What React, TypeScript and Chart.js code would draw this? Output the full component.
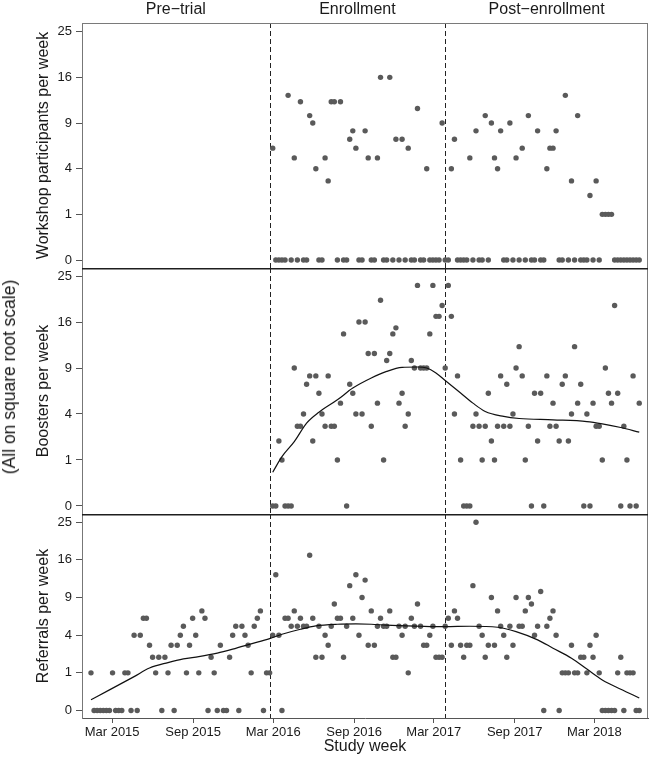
import React, { useEffect, useRef } from "react";
import { Chart, registerables } from "chart.js";

Chart.register(...registerables);

// ---------- data ----------
const studyStartUTC = Date.UTC(2015, 0, 12); // week 0 of the study

const phaseLabels = ["Pre\u2212trial", "Enrollment", "Post\u2212enrollment"];
const phaseBoundaryWeeks = [58, 115];

const xTickDates = ["2015-03-01", "2015-09-01", "2016-03-01", "2016-09-01", "2017-03-01", "2017-09-01", "2018-03-01"];
const xTickLabels = ["Mar 2015", "Sep 2015", "Mar 2016", "Sep 2016", "Mar 2017", "Sep 2017", "Mar 2018"];
const yTickValues = [0, 1, 4, 9, 16, 25];

const workshopStartWeek = 59;
const workshopValues = [
  6, 0, 0, 0, 0, 13, 0, 5, 0, 12,
  0, 0, 10, 9, 4, 0, 0, 5, 3, 12,
  12, 0, 12, 0, 0, 7, 8, 6, 0, 0,
  8, 5, 0, 0, 5, 16, 0, 0, 16, 0,
  7, 0, 7, 0, 6, 0, 0, 11, 0, 0,
  4, 0, 0, 0, 0, 9, 0, 0, 4, 7,
  0, 0, 0, 0, 5, 0, 8, 0, 0, 10,
  0, 9, 5, 4, 8, 0, 0, 9, 0, 5,
  0, 6, 0, 10, 0, 0, 8, 0, 0, 4,
  6, 6, 8, 0, 0, 13, 0, 3, 0, 10,
  0, 0, 0, 2, 0, 3, 0, 1, 1, 1,
  1, 0, 0, 0, 0, 0, 0, 0, 0, 0,
];

const boosterStartWeek = 59;
const boosterValues = [
  0, 0, 2, 1, 0, 0, 0, 9, 3, 3,
  4, 7, 8, 2, 8, 6, 4, 3, 8, 3,
  3, 1, 5, 14, 0, 7, 6, 4, 16, 4,
  16, 11, 3, 11, 5, 20, 1, 10, 11, 14,
  15, 5, 6, 3, 4, 10, 9, 23, 9, 9,
  9, 14, 23, 17, 17, 19, 9, 23, 17, 4,
  8, 1, 0, 0, 0, 3, 4, 3, 1, 3,
  6, 2, 1, 3, 8, 3, 7, 3, 4, 9,
  12, 8, 1, 3, 0, 6, 2, 6, 0, 8,
  3, 5, 3, 2, 7, 8, 2, 4, 12, 5,
  7, 0, 4, 0, 5, 3, 3, 1, 9, 6,
  5, 19, 6, 0, 3, 1, 0, 8, 0, 5,
];

const referralStartWeek = 0;
const referralValues = [
  1, 0, 0, 0, 0, 0, 0, 1, 0, 0,
  0, 1, 1, 0, 4, 0, 4, 6, 6, 3,
  2, 1, 2, 0, 2, 1, 3, 0, 3, 4,
  5, 1, 3, 6, 4, 1, 7, 6, 0, 2,
  1, 0, 3, 0, 0, 2, 4, 5, 0, 5,
  4, 3, 1, 5, 6, 7, 0, 1, 1, 4,
  13, 4, 0, 6, 6, 5, 7, 5, 6, 5,
  5, 17, 6, 2, 5, 2, 4, 3, 5, 8,
  6, 6, 2, 5, 11, 6, 13, 4, 9, 12,
  3, 7, 3, 5, 6, 5, 5, 7, 2, 2,
  5, 4, 5, 1, 6, 5, 8, 5, 3, 3,
  4, 5, 2, 2, 2, 5, 6, 3, 7, 6,
  3, 2, 3, 3, 11, 25, 5, 4, 2, 3,
  9, 3, 7, 5, 4, 2, 5, 3, 9, 5,
  5, 7, 9, 8, 4, 5, 10, 0, 5, 6,
  7, 4, 0, 1, 1, 1, 3, 1, 1, 2,
  2, 1, 3, 2, 4, 1, 0, 0, 0, 0,
  0, 1, 2, 0, 1, 1, 1, 0, 0,
];

const boosterTrendWeeks = [59, 62, 66, 70, 74, 80, 85, 91, 96, 101, 106, 109, 112, 115, 120, 124, 128, 134, 139, 150, 161, 166, 172, 178];
const boosterTrendValues = [0.54, 1.15, 1.96, 3.25, 4.16, 5.33, 6.57, 7.74, 8.56, 9.08, 9.13, 9.0, 8.36, 7.45, 6.03, 5.0, 4.22, 3.79, 3.62, 3.51, 3.37, 3.19, 2.91, 2.58];

const referralTrendWeeks = [0, 6, 14, 19, 25, 30, 35, 41, 46, 52, 58, 62, 68, 73, 80, 86, 91, 96, 107, 115, 123, 132, 138, 145, 150, 156, 161, 166, 172, 178];
const referralTrendValues = [0.08, 0.3, 0.81, 1.27, 1.62, 1.88, 2.05, 2.32, 2.65, 3.13, 3.65, 4.1, 4.66, 5.05, 5.25, 5.29, 5.25, 5.13, 5.01, 4.96, 5.01, 4.89, 4.39, 3.52, 2.74, 1.93, 1.21, 0.66, 0.32, 0.11];

// ---------- helpers ----------
const FONT = "'Liberation Sans', Arial, Helvetica, sans-serif";
const POINT_COLOR = "#5a5a5a";
const TEXT_COLOR = "#1a1a1a";
const X_MIN = -2.92;
const X_MAX = 180.84;

const weekOfDate = (d: string) => (Date.parse(d + "T00:00:00Z") - studyStartUTC) / (7 * 86400000);
const xTickWeeks = xTickDates.map(weekOfDate);

const toPoints = (start: number, values: number[]) =>
  values.map((v, i) => ({ x: start + i, y: Math.sqrt(v) }));
const toTrend = (weeks: number[], values: number[]) =>
  weeks.map((w, i) => ({ x: w, y: Math.sqrt(values[i]) }));

type PanelSpec = {
  top: number;
  height: number;
  padTop: number;
  yMin: number;
  yMax: number;
  title: string;
  points: { x: number; y: number }[];
  trend: { x: number; y: number }[] | null;
  first: boolean;
  last: boolean;
};

const panels: PanelSpec[] = [
  {
    top: 0, height: 268, padTop: 23, yMin: -0.175, yMax: 5.19,
    title: "Workshop participants per week",
    points: toPoints(workshopStartWeek, workshopValues),
    trend: null, first: true, last: false,
  },
  {
    top: 268, height: 246, padTop: 0, yMin: -0.174, yMax: 5.174,
    title: "Boosters per week",
    points: toPoints(boosterStartWeek, boosterValues),
    trend: toTrend(boosterTrendWeeks, boosterTrendValues), first: false, last: false,
  },
  {
    top: 514, height: 243, padTop: 0, yMin: -0.2, yMax: 5.22,
    title: "Referrals per week",
    points: toPoints(referralStartWeek, referralValues),
    trend: toTrend(referralTrendWeeks, referralTrendValues), first: false, last: true,
  },
];

function makeDecor(spec: PanelSpec) {
  return {
    id: "decor",
    beforeDatasetsDraw(chart: any) {
      const { ctx, chartArea, scales } = chart;
      ctx.save();
      ctx.strokeStyle = "#222";
      ctx.lineWidth = 1;
      ctx.setLineDash([5, 3]);
      for (const w of phaseBoundaryWeeks) {
        const px = Math.round(scales.x.getPixelForValue(w)) + 0.5;
        ctx.beginPath();
        ctx.moveTo(px, chartArea.top);
        ctx.lineTo(px, chartArea.bottom);
        ctx.stroke();
      }
      ctx.restore();
    },
    afterDraw(chart: any) {
      const { ctx, chartArea, scales } = chart;
      ctx.save();
      ctx.strokeStyle = "#7a7a7a";
      ctx.lineWidth = 1;
      ctx.beginPath();
      ctx.moveTo(chartArea.right - 0.5, chartArea.top);
      ctx.lineTo(chartArea.right - 0.5, chartArea.bottom);
      ctx.stroke();
      if (spec.first) {
        ctx.beginPath();
        ctx.moveTo(chartArea.left, chartArea.top + 0.5);
        ctx.lineTo(chartArea.right, chartArea.top + 0.5);
        ctx.stroke();
        ctx.fillStyle = TEXT_COLOR;
        ctx.font = `16px ${FONT}`;
        ctx.textAlign = "center";
        ctx.textBaseline = "alphabetic";
        const edges = [X_MIN, ...phaseBoundaryWeeks, X_MAX].map((w) => scales.x.getPixelForValue(w));
        phaseLabels.forEach((label, i) => {
          ctx.fillText(label, (edges[i] + edges[i + 1]) / 2, 14);
        });
      } else {
        ctx.strokeStyle = "#1e1e1e";
        ctx.lineWidth = 1.6;
        ctx.beginPath();
        ctx.moveTo(chartArea.left, chartArea.top + 0.8);
        ctx.lineTo(chartArea.right, chartArea.top + 0.8);
        ctx.stroke();
      }
      ctx.restore();
    },
  };
}

function buildConfig(spec: PanelSpec): any {
  const datasets: any[] = [];
  if (spec.trend) {
    datasets.push({
      data: spec.trend,
      showLine: true,
      borderColor: "#111",
      borderWidth: 1.2,
      pointRadius: 0,
      cubicInterpolationMode: "monotone",
      fill: false,
    });
  }
  datasets.push({
    data: spec.points,
    pointRadius: 2.7,
    pointBackgroundColor: POINT_COLOR,
    pointBorderWidth: 0,
    borderColor: POINT_COLOR,
    backgroundColor: POINT_COLOR,
  });

  return {
    type: "scatter",
    data: { datasets },
    options: {
      animation: false,
      responsive: false,
      maintainAspectRatio: false,
      devicePixelRatio: 1,
      layout: { autoPadding: false, padding: { top: spec.padTop, left: 0, right: 2, bottom: 0 } },
      plugins: { legend: { display: false }, tooltip: { enabled: false } },
      scales: {
        x: {
          type: "linear",
          display: spec.last,
          min: X_MIN,
          max: X_MAX,
          afterBuildTicks: (s: any) => {
            s.ticks = xTickWeeks.map((v) => ({ value: v }));
          },
          ticks: {
            autoSkip: false,
            maxRotation: 0,
            padding: 2,
            color: TEXT_COLOR,
            font: { family: FONT, size: 13 },
            callback: (_v: any, i: number) => xTickLabels[i],
          },
          grid: { drawOnChartArea: false, tickLength: 5, color: "#555" },
          border: { display: true, color: "#555", width: 1 },
          title: {
            display: true,
            text: "Study week",
            color: TEXT_COLOR,
            font: { family: FONT, size: 16 },
            padding: { top: 0, bottom: 1 },
          },
          afterFit: (s: any) => {
            s.height = spec.last ? 39 : 0;
            s.paddingLeft = 0;
            s.paddingRight = 0;
          },
        },
        y: {
          type: "linear",
          min: spec.yMin,
          max: spec.yMax,
          afterBuildTicks: (s: any) => {
            s.ticks = yTickValues.map((v) => ({ value: Math.sqrt(v) }));
          },
          ticks: {
            autoSkip: false,
            padding: 4,
            color: TEXT_COLOR,
            font: { family: FONT, size: 13 },
            callback: (_v: any, i: number) => String(yTickValues[i]),
          },
          grid: { drawOnChartArea: false, tickLength: 6, color: "#555" },
          border: { display: true, color: "#777", width: 1 },
          title: {
            display: true,
            text: spec.title,
            color: TEXT_COLOR,
            font: { family: FONT, size: 16 },
            padding: { top: 34, bottom: 0 },
          },
          afterFit: (s: any) => {
            s.width = 82;
            s.paddingTop = 0;
            s.paddingBottom = 0;
          },
        },
      },
    },
    plugins: [makeDecor(spec)],
  };
}

export default function App() {
  const refs = [useRef<HTMLCanvasElement>(null), useRef<HTMLCanvasElement>(null), useRef<HTMLCanvasElement>(null)];

  useEffect(() => {
    Chart.defaults.font.family = FONT;
    const charts = panels.map((spec, i) => new Chart(refs[i].current as HTMLCanvasElement, buildConfig(spec)));
    return () => charts.forEach((c) => c.destroy());
  }, []);

  return (
    <div style={{ position: "fixed", left: 0, top: 0, width: 650, height: 757, background: "#fff", overflow: "hidden" }}>
      {panels.map((spec, i) => (
        <canvas
          key={i}
          ref={refs[i]}
          width={650}
          height={spec.height}
          style={{ position: "absolute", left: 0, top: spec.top, width: 650, height: spec.height }}
        />
      ))}
      <div
        style={{
          position: "absolute",
          left: 9,
          top: 377,
          transform: "translate(-50%, -50%) rotate(-90deg)",
          whiteSpace: "nowrap",
          fontFamily: FONT,
          fontSize: 17.5,
          color: TEXT_COLOR,
          lineHeight: "20px",
        }}
      >
        (All on square root scale)
      </div>
    </div>
  );
}
